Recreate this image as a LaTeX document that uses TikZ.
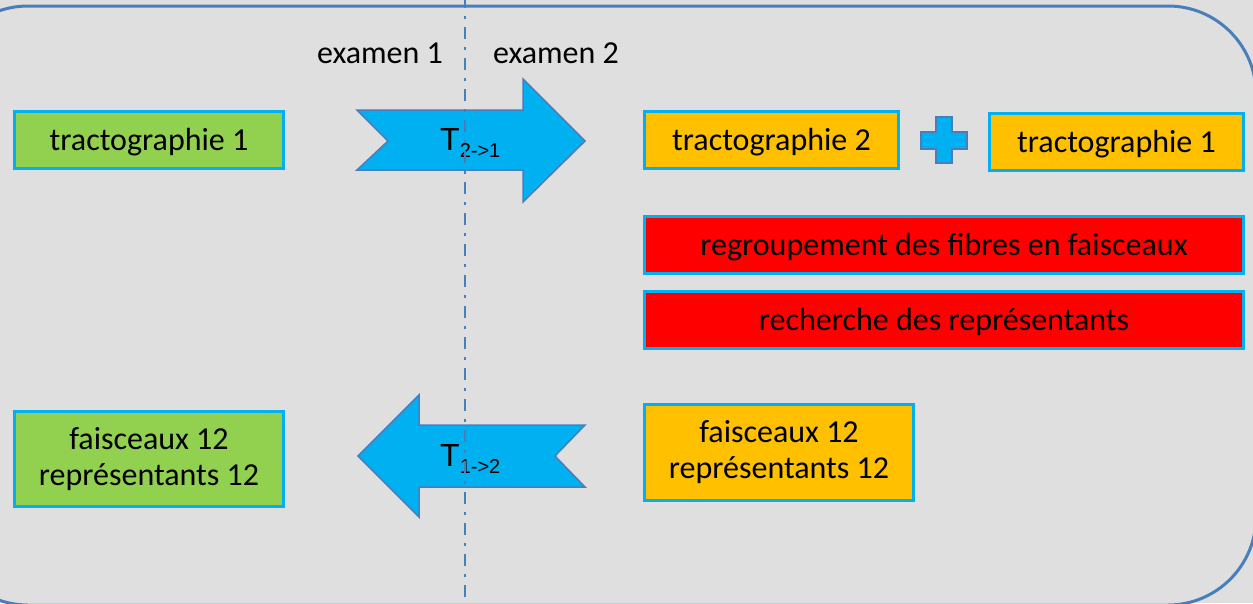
\documentclass[tikz,border=0pt]{standalone}
\usepackage{fontspec}
\setmainfont{Carlito}
\newfontfamily\arialfont{Liberation Sans}
\usetikzlibrary{calc}
\definecolor{fond}{HTML}{DFDFDF}
\definecolor{cadre}{HTML}{4A7EBB}
\definecolor{cyanbord}{HTML}{00B0F0}
\definecolor{vert}{HTML}{92D050}
\definecolor{orange}{HTML}{FFC000}
\definecolor{rouge}{HTML}{FF0000}

\begin{document}
\begin{tikzpicture}[x=1pt, y=-1pt, line join=miter,
	font=\fontsize{32}{38}\selectfont,
	boite/.style={draw=cyanbord, line width=3.5pt, inner sep=0pt, align=center},
	uneligne/.style={text height=23pt, text depth=3pt},
	boitevert/.style={boite, fill=vert},
	boiteorange/.style={boite, fill=orange},
	boiterouge/.style={boite, fill=rouge, uneligne},
	fleche/.style={draw=cadre, fill=cyanbord, line width=1.5pt},
	etiq/.style={font=\arialfont\fontsize{32}{32}\selectfont, inner sep=0pt, anchor=base west}]

\useasboundingbox (0,0) rectangle (1253,603);
\clip (0,0) rectangle (1253,603);
\fill[fond] (0,0) rectangle (1253,603);

%========================
% frame
%========================
\draw[cadre, line width=3pt, rounded corners=88pt] (-60,6) rectangle (1256,605);

% exam labels
\node[anchor=base] (ex1) at (380,63) {examen 1};
\node[anchor=base] (ex2) at (556,63) {examen 2};

%========================
% top row
%========================
\node[boitevert, uneligne, minimum width=269pt, minimum height=57pt] (tracto1) at (149,140) {tractographie 1};

% arrow T 2->1
\draw[fleche] (357,110) -- (523,110) -- (523,79) -- (585,141) -- (523,202)
	-- (523,170) -- (357,170) -- (388,141) -- cycle;
\node[etiq] (t21) at (440,150) {T\raisebox{-7pt}{\fontsize{20}{20}\selectfont 2->1}};

\node[boiteorange, uneligne, minimum width=254pt, minimum height=57pt] (tracto2b) at (771.5,140) {tractographie 2};

% plus sign
\draw[fleche] (936,117) -- (952,117) -- (952,132) -- (967,132) -- (967,149) -- (952,149)
	-- (952,163) -- (936,163) -- (936,149) -- (921,149) -- (921,132) -- (936,132) -- cycle;

\node[boiteorange, uneligne, minimum width=254pt, minimum height=57pt] (tracto1b) at (1116.5,142) {tractographie 1};

%========================
% processing
%========================
\node[boiterouge, minimum width=599pt, minimum height=57pt] (regroup) at (944,245) {regroupement des fibres en faisceaux};
\node[boiterouge, minimum width=599pt, minimum height=57pt] (recherche) at (944,320) {recherche des représentants};

%========================
% bottom row
%========================
\node[boitevert, minimum width=269pt, minimum height=95pt] (fais1) at (149,459) {\raisebox{-2pt}{faisceaux 12}\\représentants 12};

% arrow T 1->2
\draw[fleche] (358,456) -- (419,395) -- (419,425) -- (585,425) -- (555,456)
	-- (585,487) -- (419,487) -- (419,517) -- cycle;
\node[etiq] (t12) at (440,466) {T\raisebox{-7pt}{\fontsize{20}{20}\selectfont 1->2}};

\node[boiteorange, minimum width=269pt, minimum height=96pt] (fais2) at (779,452.5) {\raisebox{-2pt}{faisceaux 12}\\représentants 12};

% separation exam 1 / exam 2
\draw[cadre, line width=2.5pt, dash pattern=on 12pt off 8pt on 3pt off 8pt] (465,-4) -- (465,607);

\end{tikzpicture}
\end{document}
